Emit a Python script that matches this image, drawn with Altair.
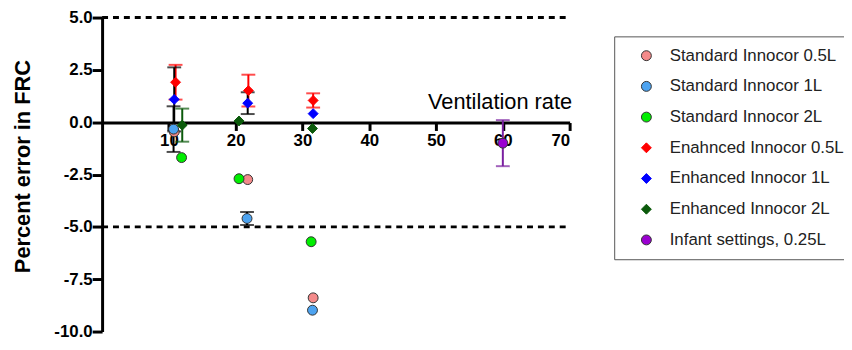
import altair as alt
import pandas as pd

# ---- data ----
series_names = [
    "Standard Innocor 0.5L",
    "Standard Innocor 1L",
    "Standard Innocor 2L",
    "Enahnced Innocor 0.5L",
    "Enhanced Innocor 1L",
    "Enhanced Innocor 2L",
    "Infant settings, 0.25L",
]
series_colors = ["#f48a8a", "#4da3f0", "#00ee00", "#ff0000", "#0000ff", "#0b5a0b", "#9a00d0"]
series_strokes = ["#333333", "#333333", "#333333", "#ff0000", "#0000ff", "#0b5a0b", "#333333"]
series_shapes = ["circle", "circle", "circle", "diamond", "diamond", "diamond", "circle"]
series_sizes = [100, 100, 160, 120, 120, 120, 100]
errbar_colors = ["#f48a8a", "#000000", "#00ee00", "#ff0000", "#000000", "#0b5a0b", "#7a1fa0"]

std05_x = [10.8, 21.8, 31.6]
std05_y = [-0.46, -2.74, -8.39]
std05_e = [0.0, 0.0, 0.0]

std1_x = [10.7, 21.7, 31.5]
std1_y = [-0.33, -4.60, -8.98]
std1_e = [1.09, 0.31, 0.0]

std2_x = [11.9, 20.5, 31.3]
std2_y = [-1.69, -2.70, -5.71]
std2_e = [0.0, 0.0, 0.0]

enh05_x = [11.0, 21.9, 31.6]
enh05_y = [1.91, 1.51, 1.04]
enh05_e = [0.83, 0.76, 0.34]

enh1_x = [10.8, 21.8, 31.6]
enh1_y = [1.09, 0.91, 0.41]
enh1_e = [1.53, 0.52, 0.0]

enh2_x = [12.0, 20.5, 31.5]
enh2_y = [-0.14, 0.06, -0.30]
enh2_e = [0.79, 0.0, 0.0]

infant_x = [60.0]
infant_y = [-1.0]
infant_e = [1.1]

ref_lines = [5.0, -5.0]
x_ticks = [10, 20, 30, 40, 50, 60, 70]
y_ticks = [-10.0, -7.5, -5.0, -2.5, 0.0, 2.5, 5.0]

all_x = [std05_x, std1_x, std2_x, enh05_x, enh1_x, enh2_x, infant_x]
all_y = [std05_y, std1_y, std2_y, enh05_y, enh1_y, enh2_y, infant_y]
all_e = [std05_e, std1_e, std2_e, enh05_e, enh1_e, enh2_e, infant_e]

pts = []
errs = []
for i, name in enumerate(series_names):
    for xv, yv, ev in zip(all_x[i], all_y[i], all_e[i]):
        pts.append({"series": name, "x": xv, "y": yv})
        if ev > 0:
            errs.append({"series": name, "x": xv, "lo": yv - ev, "hi": yv + ev,
                         "ecol": errbar_colors[i]})
pts_df = pd.DataFrame(pts)
err_df = pd.DataFrame(errs)
err_caps = pd.concat([
    err_df.assign(cap=err_df["lo"]),
    err_df.assign(cap=err_df["hi"]),
])
ref_df = pd.DataFrame({"y": ref_lines, "x0": [0, 0], "x1": [70, 70]})

FONT = "Liberation Sans"
W, H = 472, 317
PAD_LEFT = 95

xscale = alt.Scale(domain=[0, 70], nice=False, zero=False)
yscale = alt.Scale(domain=[-10, 5], nice=False)

x_axis = alt.Axis(
    values=x_ticks, title="Ventilation rate", orient="bottom", offset=-211,
    domainColor="black", domainWidth=3, tickColor="black", tickWidth=3, tickSize=8,
    labelFont=FONT, labelFontWeight="bold", labelFontSize=17, labelColor="black",
    labelPadding=2, grid=False,
    titleFont=FONT, titleFontWeight="normal", titleFontSize=22, titleColor="black",
    titleAnchor="end", titleAlign="right", titleBaseline="alphabetic",
    titleX=W + 2, titleY=-14,
)
y_axis = alt.Axis(
    values=y_ticks, title="Percent error in FRC",
    labelExpr="(datum.value < 0 ? '-' : '') + format(abs(datum.value), '.1f')",
    domainColor="black", domainWidth=3, tickColor="black", tickWidth=3, tickSize=10,
    labelFont=FONT, labelFontWeight="bold", labelFontSize=17, labelColor="black",
    labelPadding=0, grid=False,
    titleFont=FONT, titleFontWeight="bold", titleFontSize=22, titleColor="black",
    titleAngle=270, titleAlign="center", titleBaseline="middle",
    titleX=-80, titleY=150,
)

refs = alt.Chart(ref_df).mark_rule(color="black", strokeWidth=3, strokeDash=[6, 5]).encode(
    x=alt.X("x0:Q", scale=xscale, axis=x_axis),
    x2="x1:Q",
    y=alt.Y("y:Q", scale=yscale, axis=y_axis),
)

bars = alt.Chart(err_df).mark_rule(strokeWidth=2).encode(
    x=alt.X("x:Q", scale=xscale),
    y=alt.Y("lo:Q", scale=yscale),
    y2="hi:Q",
    color=alt.Color("ecol:N", scale=None),
)
caps = alt.Chart(err_caps).mark_tick(orient="horizontal", size=14, thickness=2).encode(
    x=alt.X("x:Q", scale=xscale),
    y=alt.Y("cap:Q", scale=yscale),
    color=alt.Color("ecol:N", scale=None),
)

legend = alt.Legend(
    title=None, orient="none", legendX=615 - 8 - PAD_LEFT + 5, legendY=19,
    strokeColor="#555555", fillColor="white", padding=11,
    labelFont=FONT, labelFontSize=17, labelColor="#222222", labelLimit=400,
    rowPadding=13, symbolOffset=13, labelOffset=15, symbolStrokeWidth=1,
)

points = alt.Chart(pts_df).mark_point(filled=True, opacity=1, strokeWidth=1).encode(
    x=alt.X("x:Q", scale=xscale),
    y=alt.Y("y:Q", scale=yscale),
    color=alt.Color("series:N", scale=alt.Scale(domain=series_names, range=series_colors),
                    legend=legend, sort=series_names),
    fill=alt.Fill("series:N", scale=alt.Scale(domain=series_names, range=series_colors),
                  legend=legend, sort=series_names),
    stroke=alt.Stroke("series:N", scale=alt.Scale(domain=series_names, range=series_strokes),
                      legend=legend, sort=series_names),
    shape=alt.Shape("series:N", scale=alt.Scale(domain=series_names, range=series_shapes),
                    legend=legend, sort=series_names),
    size=alt.Size("series:N", scale=alt.Scale(domain=series_names, range=series_sizes),
                  legend=legend, sort=series_names),
)

chart = alt.layer(refs, bars, caps, points).properties(
    width=W, height=H,
    autosize=alt.AutoSizeParams(type="none"),
    padding={"left": PAD_LEFT, "top": 8, "right": 844 - PAD_LEFT - W, "bottom": 17},
    background="white",
).configure_view(stroke=None)

chart.save("out.html", embed_options={"renderer": "svg", "actions": False})
